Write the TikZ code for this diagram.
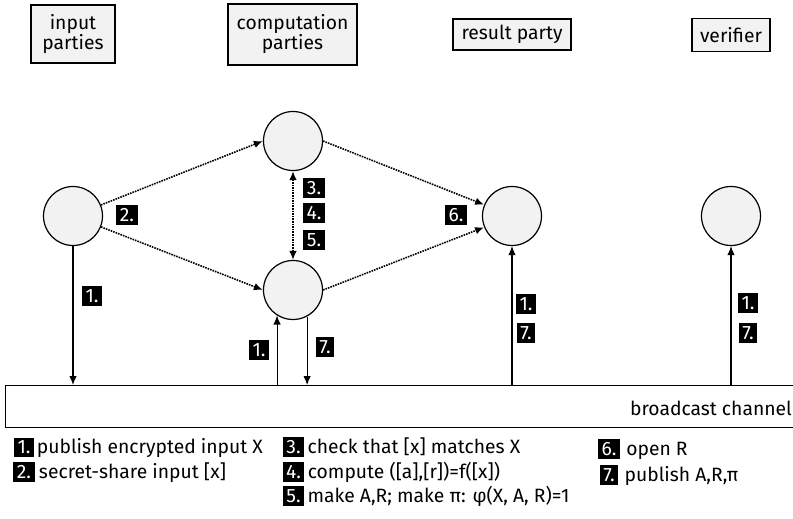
\documentclass[tikz,border=0pt]{standalone}
\usepackage{fontspec}
\setmainfont{Fira Sans}
\usetikzlibrary{arrows.meta}
\definecolor{boxfill}{HTML}{F2F2F2}
\begin{document}
\begin{tikzpicture}[x=1pt,y=-1pt,
  font=\fontsize{19.3}{22}\selectfont,
  hdr/.style={draw, line width=1.3pt, fill=boxfill, align=center, inner sep=1pt},
  party/.style={circle, draw, line width=1.2pt, fill=boxfill, minimum size=59pt, inner sep=0pt},
  num/.style={fill=black, text=white, inner xsep=3.5pt, inner ysep=3.8pt},
  legtxt/.style={inner sep=0pt, anchor=base west},
  dotarr/.style={densely dotted, line width=1.6pt, -{Latex[length=9pt,width=7.5pt]}},
  dotdbl/.style={densely dotted, line width=1.6pt, {Latex[length=9pt,width=7.5pt]}-{Latex[length=9pt,width=7.5pt]}},
  solarr/.style={line width=1.1pt, -{Latex[length=9pt,width=7.5pt]}}
]
\useasboundingbox (0,0) rectangle (793,519);
% headers
\node[hdr, minimum width=84pt, minimum height=58pt] (hin) at (73,34) {input\\[-2pt]parties};
\node[hdr, minimum width=129pt, minimum height=61pt] (hcomp) at (292.5,34.5) {computation\\[-2pt]parties};
\node[hdr, minimum width=118pt, minimum height=31pt] (hres) at (512,34.5) {result party};
\node[hdr, minimum width=78pt, minimum height=33pt] (hver) at (731,35) {verifier};
% parties
\node[party] (in) at (73,216) {};
\node[party] (top) at (293,141) {};
\node[party] (bot) at (293,290) {};
\node[party] (res) at (512,216) {};
\node[party] (ver) at (731,216) {};
% broadcast channel
\node[draw, line width=1.3pt, minimum width=810pt, minimum height=42pt, inner sep=0pt, anchor=north west] (bc) at (5,385) {};
\node[anchor=base east, inner sep=0pt] (bctxt) at (792,415) {broadcast channel};
% dotted arrows
\draw[dotarr] (in) -- (top.west);
\draw[dotarr] (in) -- (bot.west);
\draw[dotarr] (top.east) -- (res.158);
\draw[dotarr] (bot.east) -- (res.202);
\draw[dotdbl] (top) -- (bot);
% solid arrows
\draw[solarr] (in) -- (in |- bc.north);
\draw[solarr] (bot.-122 |- bc.north) -- (bot.-122);
\draw[solarr] (bot.-62) -- (bot.-62 |- bc.north);
\draw[solarr] (res |- bc.north) -- (res);
\draw[solarr] (ver |- bc.north) -- (ver);
% step labels in diagram
\node[num] (n2) at (127,215) {2.};
\node[num] (n3) at (314,188) {3.};
\node[num] (n4) at (314,213) {4.};
\node[num] (n5) at (314,240) {5.};
\node[num] (n6) at (456,215) {6.};
\node[num] (n1a) at (92,296) {1.};
\node[num] (n1b) at (259,350) {1.};
\node[num] (n7b) at (325,347) {7.};
\node[num] (n1c) at (526,304) {1.};
\node[num] (n7c) at (526,333) {7.};
\node[num] (n1d) at (748,303) {1.};
\node[num] (n7d) at (748,333) {7.};
% legend
\node[num, inner ysep=3.3pt] (l1) at (24,447.5) {1.};
\node[legtxt] (t1) at ([xshift=2.5pt]l1.base east) {publish encrypted input X};
\node[num, inner ysep=3.3pt] (l2) at (24,472) {2.};
\node[legtxt] (t2) at ([xshift=4pt]l2.base east) {secret-share input [x]};
\node[num, inner ysep=3.3pt] (l3) at (293.5,447) {3.};
\node[legtxt] (t3) at ([xshift=3pt]l3.base east) {check that [x] matches X};
\node[num, inner ysep=3.3pt] (l4) at (293.5,472) {4.};
\node[legtxt] (t4) at ([xshift=3pt]l4.base east) {compute ([a],[r])=f([x])};
\node[num, inner ysep=3.3pt] (l5) at (293.5,496) {5.};
\node[legtxt] (t5) at ([xshift=3pt]l5.base east) {make A,R; make π: φ(X, A, R)=1};
\node[num, inner ysep=3.3pt] (l6) at (609,449) {6.};
\node[legtxt] (t6) at ([xshift=6pt]l6.base east) {open R};
\node[num, inner ysep=3.3pt] (l7) at (609,475) {7.};
\node[legtxt] (t7) at ([xshift=6pt]l7.base east) {publish A,R,π};
\end{tikzpicture}
\end{document}
